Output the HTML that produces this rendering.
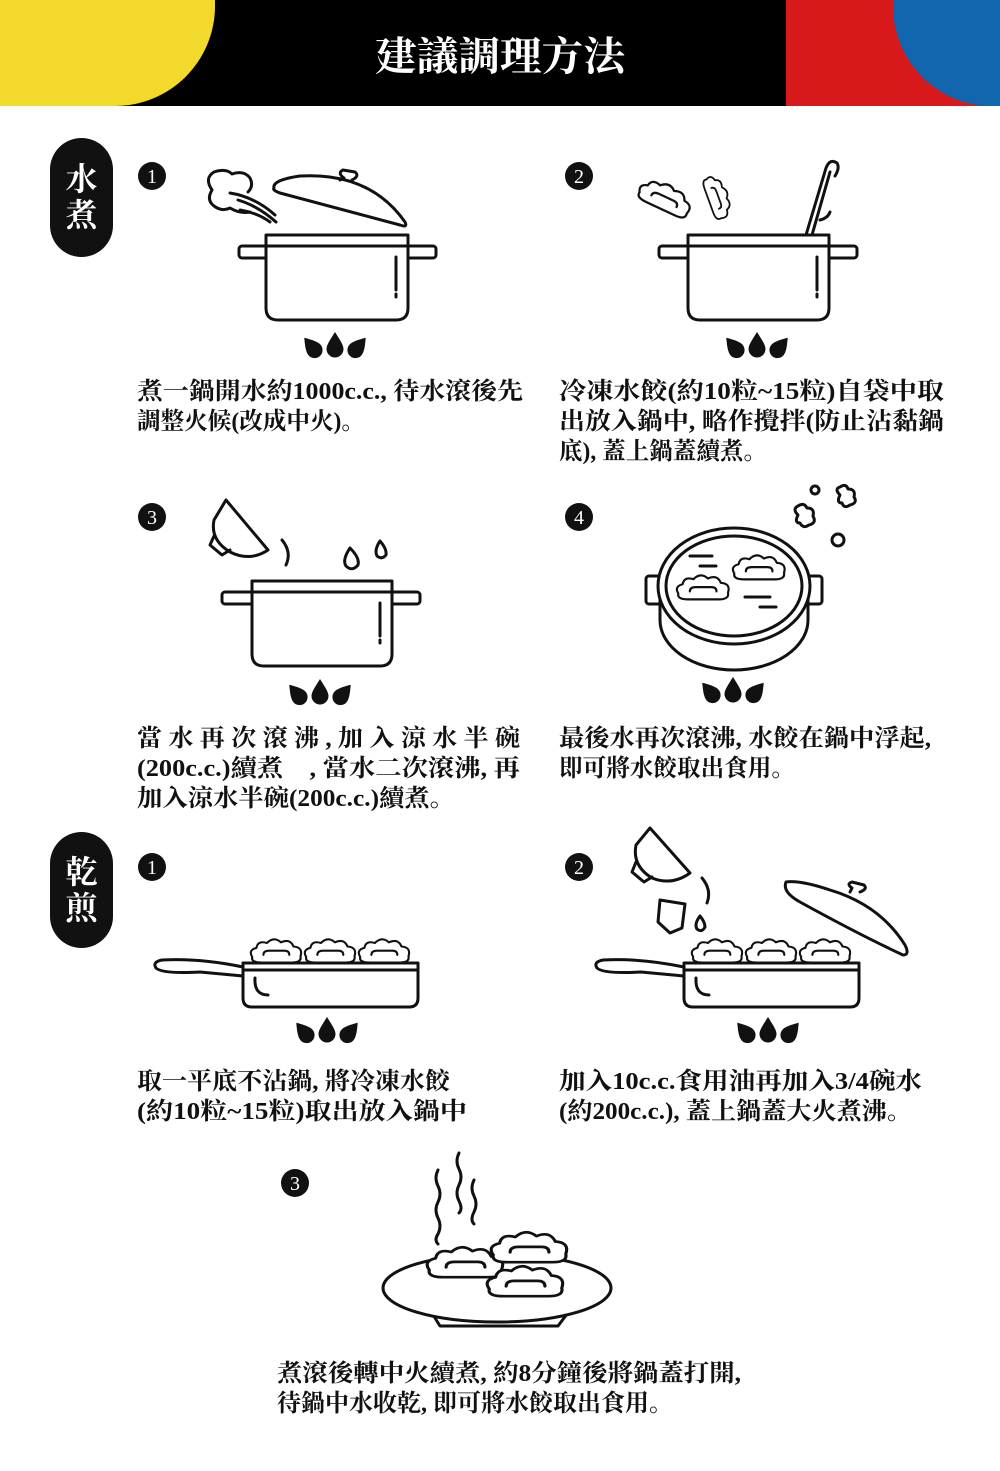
<!DOCTYPE html>
<html><head><meta charset="utf-8"><style>
html,body{margin:0;padding:0;background:#fff}
svg{display:block}
.t{font-family:"Liberation Serif","Noto Serif CJK SC","Noto Sans CJK TC",serif;font-weight:bold;font-size:24px;fill:#111}
.n{font-family:"Liberation Serif",serif;font-size:20px;fill:#fff;text-anchor:middle}
.s{fill:none;stroke:#111;stroke-width:3;stroke-linecap:round;stroke-linejoin:round}
</style></head><body>
<svg width="1000" height="1471" viewBox="0 0 1000 1471" xmlns="http://www.w3.org/2000/svg">
<defs>
<g id="flames" fill="#111">
<path transform="translate(-23,2) rotate(-40)" d="M0,-12 C5,-5 8,0 8,4 A8,8 0 0 1 -8,4 C-8,0 -5,-5 0,-12Z"/>
<path d="M0,-13 C5,-5 8.5,0 8.5,4 A8.5,8.5 0 0 1 -8.5,4 C-8.5,0 -5,-5 0,-13Z"/>
<path transform="translate(23,2) rotate(40)" d="M0,-12 C5,-5 8,0 8,4 A8,8 0 0 1 -8,4 C-8,0 -5,-5 0,-12Z"/>
</g>
<g id="dump" class="s">
<path d="M6,30 Q0,20 12,17 Q14,6 27,10 Q37,0 47,9 Q60,3 65,15 Q79,16 75,29 Q77,38 62,38 L20,38 Q4,38 6,30 Z" fill="#fff"/>
<path d="M22,27 Q22,21 30,21 L52,21 Q59,21 59,27"/>
</g>
</defs>

<!-- header -->
<rect x="0" y="0" width="1000" height="106" fill="#000"/>
<path d="M0,0 H215 V6 A100,100 0 0 1 115,106 H0Z" fill="#f2d92b"/>
<path d="M786,0 H1000 V106 H786Z" fill="#d7191c"/>
<path d="M893,0 H1000 V106 H993 A100,100 0 0 1 893,6Z" fill="#1266ad"/>
<text x="500" y="70" text-anchor="middle" class="t" style="font-size:40px;fill:#fff" textLength="250" lengthAdjust="spacingAndGlyphs">建議調理方法</text>

<!-- side pills -->
<rect x="50" y="138" width="63" height="119" rx="31.5" fill="#111"/>
<text x="81.5" y="190" text-anchor="middle" class="t" style="font-size:32px;fill:#fff">水</text>
<text x="81.5" y="226" text-anchor="middle" class="t" style="font-size:32px;fill:#fff">煮</text>
<rect x="50" y="832" width="63" height="116" rx="31.5" fill="#111"/>
<text x="81.5" y="883" text-anchor="middle" class="t" style="font-size:32px;fill:#fff">乾</text>
<text x="81.5" y="919" text-anchor="middle" class="t" style="font-size:32px;fill:#fff">煎</text>

<!-- number circles -->
<g fill="#111">
<circle cx="152" cy="176" r="14"/><circle cx="579" cy="176" r="14"/>
<circle cx="152" cy="517" r="14"/><circle cx="579" cy="517" r="14"/>
<circle cx="152" cy="867" r="14"/><circle cx="579" cy="867" r="14"/>
<circle cx="295" cy="1183" r="14"/>
</g>
<text x="152" y="183" class="n">1</text><text x="579" y="183" class="n">2</text>
<text x="152" y="524" class="n">3</text><text x="579" y="524" class="n">4</text>
<text x="152" y="874" class="n">1</text><text x="579" y="874" class="n">2</text>
<text x="295" y="1190" class="n">3</text>

<!-- step 1 -->
<g class="s">
<rect x="239" y="246" width="197" height="12" rx="3"/>
<path d="M266,235 H408 V308 Q408,320 396,320 H278 Q266,320 266,308Z" fill="#fff"/>
<line x1="266" y1="246" x2="408" y2="246"/>
<line x1="396" y1="257" x2="396" y2="290"/><line x1="396" y1="294" x2="396" y2="297"/>
<path d="M274,188 Q272,180 300,176 Q370,172 405,222 Q408,228 400,225 L280,193 Q272,190 274,188Z"/>
<path d="M340,180 L344,178 Q337,173 343,170 L355,172 Q360,176 352,180"/>
<path d="M212,190 Q204,178 214,172 Q226,168 232,174 Q244,170 250,178 Q254,186 248,192 M212,190 Q206,200 214,206 Q222,212 230,208 Q240,214 250,212"/>
<path d="M230,193 Q255,197 275,215 M238,200 Q258,206 276,222 M240,210 Q258,213 270,222"/>
</g>
<use href="#flames" x="335" y="345"/>

<!-- step 2 -->
<g class="s">
<rect x="659" y="246" width="198" height="12" rx="3"/>
<path d="M688,235 H829 V308 Q829,320 817,320 H700 Q688,320 688,308Z" fill="#fff"/>
<line x1="688" y1="246" x2="829" y2="246"/>
<line x1="817" y1="257" x2="817" y2="290"/><line x1="817" y1="294" x2="817" y2="297"/>
<path d="M806,235 L826,168 Q830,158 837,163 Q840,168 835,176"/>
<path d="M812,235 L830,172"/>
<path d="M820,220 Q828,218 830,212"/>
</g>
<use href="#dump" transform="translate(645,170) rotate(25) scale(0.75)"/>
<use href="#dump" transform="translate(722,170) rotate(70) scale(0.6)"/>
<use href="#flames" x="757" y="345"/>

<!-- step 3 -->
<g class="s">
<rect x="222" y="592" width="198" height="12" rx="3"/>
<path d="M252,581 H392 V654 Q392,666 380,666 H264 Q252,666 252,654Z" fill="#fff"/>
<line x1="252" y1="592" x2="392" y2="592"/>
<line x1="380" y1="603" x2="380" y2="636"/><line x1="380" y1="640" x2="380" y2="643"/>
<path d="M226,500 L268,550 Q250,562 230,552 Q210,540 214,520 Z"/>
<path d="M214,536 L210,545 L222,555 L230,550"/>
<path d="M282,540 Q292,552 286,565"/>
<path d="M350,548 Q342,560 346,566 Q352,572 358,565 Q360,558 350,548Z"/>
<path d="M380,541 Q374,550 377,556 Q382,560 386,555 Q387,549 380,541Z"/>
</g>
<use href="#flames" x="320" y="692"/>

<!-- step 4 -->
<g class="s">
<rect x="646" y="576" width="16" height="28" rx="3"/>
<rect x="806" y="576" width="16" height="28" rx="3"/>
<path d="M660,590 V620 A74,50 0 0 0 808,620 V590"/>
<ellipse cx="734" cy="586" rx="76" ry="58" fill="#fff"/>
<ellipse cx="734" cy="586" rx="68" ry="50"/>
<line x1="690" y1="556" x2="712" y2="556"/><line x1="700" y1="566" x2="716" y2="566"/>
<line x1="745" y1="597" x2="770" y2="597"/><line x1="760" y1="607" x2="776" y2="607"/>
<circle cx="815" cy="490" r="4"/><circle cx="838" cy="540" r="6"/>
<path d="M840,495 q-6,-6 0,-8 q6,-4 8,2 q8,0 6,8 q4,6 -4,8 q-6,4 -8,-2 q-6,0 -2,-8z"/>
<path d="M798,515 q-6,-6 0,-9 q6,-4 9,2 q8,0 6,8 q4,7 -4,9 q-6,4 -9,-2 q-6,0 -2,-8z"/>
</g>
<use href="#dump" transform="translate(674,572) scale(0.72)"/>
<use href="#dump" transform="translate(730,552) scale(0.72)"/>
<use href="#flames" x="733" y="690"/>

<!-- fry 1 -->
<use href="#dump" transform="translate(248,936) scale(0.7)"/>
<use href="#dump" transform="translate(302,936) scale(0.7)"/>
<use href="#dump" transform="translate(356,936) scale(0.7)"/>
<g class="s">
<path d="M243,963 H418 V998 Q418,1007 409,1007 H252 Q243,1007 243,998Z" fill="#fff"/>
<line x1="243" y1="970" x2="418" y2="970"/>
<path d="M255,978 Q254,995 268,995"/>
<path d="M243,967 Q200,958 162,960 Q152,962 156,968 Q162,974 200,972 L243,976"/>
</g>
<use href="#flames" x="327" y="1030"/>

<!-- fry 2 -->
<use href="#dump" transform="translate(689,936) scale(0.7)"/>
<use href="#dump" transform="translate(743,936) scale(0.7)"/>
<use href="#dump" transform="translate(797,936) scale(0.7)"/>
<g class="s">
<path d="M684,963 H859 V998 Q859,1007 850,1007 H693 Q684,1007 684,998Z" fill="#fff"/>
<line x1="684" y1="970" x2="859" y2="970"/>
<path d="M696,978 Q695,995 709,995"/>
<path d="M684,967 Q641,958 603,960 Q593,962 597,968 Q603,974 641,972 L684,976"/>
<path d="M786,882 Q782,892 800,902 Q860,935 903,955 Q910,955 905,945 Q880,905 830,890 Q800,880 786,882Z" fill="#fff"/>
<path d="M850,892 L852,888 Q846,884 852,882 L864,885 Q868,889 860,892"/>
<path d="M650,828 L690,873 Q672,886 652,878 Q632,866 636,845 Z"/>
<path d="M636,862 L632,872 L644,882 L652,877"/>
<path d="M702,878 Q712,890 707,903"/>
<path d="M660,900 L685,904 L682,928 L670,933 L658,922Z"/>
<path d="M700,916 Q694,924 697,929 Q702,933 705,927 Q705,922 700,916Z"/>
</g>
<use href="#flames" x="768" y="1030"/>

<!-- fry 3 plate -->
<g class="s">
<path d="M438,1170 q-4,8 0,16 q4,8 0,16 q-4,8 0,16 q4,8 0,16 q-4,6 0,10"/>
<path d="M459,1153 q-4,8 0,16 q4,8 0,16 q-4,8 0,16 q4,8 0,12"/>
<path d="M474,1180 q-4,8 0,16 q4,8 0,16 q-4,8 0,12"/>
<path d="M430,1310 L440,1326 H558 L570,1310"/>
<ellipse cx="497" cy="1288" rx="114" ry="34" fill="#fff"/>
</g>
<use href="#dump" transform="translate(423,1243) scale(1.05,0.9)"/>
<use href="#dump" transform="translate(487,1228) scale(1.05,0.9)"/>
<use href="#dump" transform="translate(483,1262) scale(1.05,0.9)"/>

<!-- texts -->
<text class="t" x="137" y="399" textLength="386" lengthAdjust="spacingAndGlyphs">煮一鍋開水約1000c.c., 待水滾後先</text>
<text class="t" x="137" y="429" textLength="228" lengthAdjust="spacingAndGlyphs">調整火候(改成中火)。</text>

<text class="t" x="559" y="399" textLength="385" lengthAdjust="spacingAndGlyphs">冷凍水餃(約10粒~15粒)自袋中取</text>
<text class="t" x="559" y="429" textLength="385" lengthAdjust="spacingAndGlyphs">出放入鍋中, 略作攪拌(防止沾黏鍋</text>
<text class="t" x="559" y="459" textLength="208" lengthAdjust="spacingAndGlyphs">底), 蓋上鍋蓋續煮。</text>

<text class="t" x="137" y="746" textLength="383" lengthAdjust="spacingAndGlyphs">當 水 再 次 滾 沸 , 加 入 涼 水 半 碗</text>
<text class="t" x="137" y="776" textLength="383" lengthAdjust="spacingAndGlyphs">(200c.c.)續煮　, 當水二次滾沸, 再</text>
<text class="t" x="137" y="806" textLength="318" lengthAdjust="spacingAndGlyphs">加入涼水半碗(200c.c.)續煮。</text>

<text class="t" x="559" y="746" textLength="372" lengthAdjust="spacingAndGlyphs">最後水再次滾沸, 水餃在鍋中浮起,</text>
<text class="t" x="559" y="776" textLength="236" lengthAdjust="spacingAndGlyphs">即可將水餃取出食用。</text>

<text class="t" x="137" y="1089" textLength="313" lengthAdjust="spacingAndGlyphs">取一平底不沾鍋, 將冷凍水餃</text>
<text class="t" x="137" y="1119" textLength="330" lengthAdjust="spacingAndGlyphs">(約10粒~15粒)取出放入鍋中</text>

<text class="t" x="559" y="1089" textLength="363" lengthAdjust="spacingAndGlyphs">加入10c.c.食用油再加入3/4碗水</text>
<text class="t" x="559" y="1119" textLength="353" lengthAdjust="spacingAndGlyphs">(約200c.c.), 蓋上鍋蓋大火煮沸。</text>

<text class="t" x="277" y="1381" textLength="464" lengthAdjust="spacingAndGlyphs">煮滾後轉中火續煮, 約8分鐘後將鍋蓋打開,</text>
<text class="t" x="277" y="1411" textLength="396" lengthAdjust="spacingAndGlyphs">待鍋中水收乾, 即可將水餃取出食用。</text>
</svg>
</body></html>
